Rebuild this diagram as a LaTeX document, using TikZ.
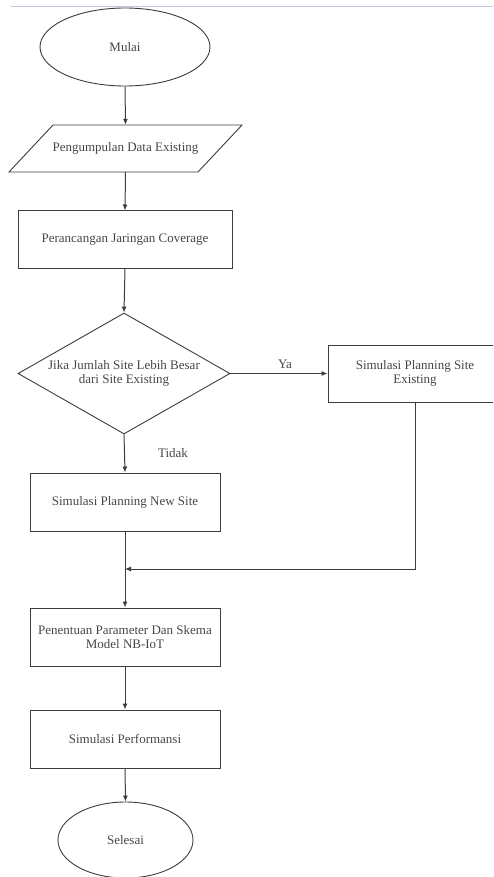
\documentclass[tikz,border=0pt]{standalone}
\usepackage{fontspec}
\setmainfont{Liberation Serif}
\usetikzlibrary{shapes.geometric,arrows.meta}
\definecolor{topline}{RGB}{190,200,222}
\definecolor{edgecol}{RGB}{60,60,60}
\definecolor{txtcol}{RGB}{70,70,70}
\begin{document}
\begin{tikzpicture}[x=1pt,y=-1pt,
  every node/.style={font=\fontsize{13}{14.5}\selectfont, text=txtcol},
  flow/.style={draw=edgecol, line width=1pt, -{Latex[length=6pt,width=5pt]}},
  plainline/.style={draw=edgecol, line width=1pt},
  procbox/.style={draw=edgecol, line width=1pt, rectangle, inner sep=0pt, align=center},
  terminal/.style={draw=edgecol, line width=0.9pt, ellipse, inner sep=0pt, align=center},
  decision/.style={draw=edgecol, line width=0.9pt, diamond, aspect=1.75, inner sep=0pt, align=center, minimum width=212pt, minimum height=121pt},
  lbl/.style={inner sep=0pt}
]
\useasboundingbox (0,0) rectangle (493,877);
\clip (0,0) rectangle (493,877);
\draw[topline, line width=1pt] (11,7) -- (493,7);

\node[terminal, minimum width=170pt, minimum height=78pt] (mulai) at (125,47) {Mulai};

\node[inner sep=0pt, minimum width=190pt, minimum height=47pt, align=center] (data) at (125.5,148.5) {Pengumpulan Data Existing};
\draw[edgecol, line width=0.9pt] (53,125) -- (242,125) -- (198,172) -- (9,172) -- cycle;

\node[procbox, minimum width=214pt, minimum height=57pt] (rancang) at (125,239.5) {Perancangan Jaringan Coverage};

\node[decision] (jika) at (124,373.5) {Jika Jumlah Site Lebih Besar\\dari Site Existing};

\node[procbox, minimum width=174pt, minimum height=57pt] (existing) at (415,373.5) {Simulasi Planning Site\\Existing};

\node[procbox, minimum width=190pt, minimum height=58pt] (newsite) at (125,502) {Simulasi Planning New Site};

\node[procbox, minimum width=190pt, minimum height=58pt] (param) at (125,637) {Penentuan Parameter Dan Skema\\Model NB-IoT};

\node[procbox, minimum width=190pt, minimum height=58pt] (perf) at (125,739) {Simulasi Performansi};

\node[terminal, minimum width=135pt, minimum height=76pt] (selesai) at (125.5,840) {Selesai};

\node[lbl] (ya) at (285,364) {Ya};
\node[lbl] (tidak) at (173,453) {Tidak};

\coordinate (merge) at (125,569);
\coordinate (corner) at (415,569);

\draw[flow] (mulai.south) -- (data.north);
\draw[flow] (data.south) -- (rancang.north);
\draw[flow] (rancang.south) -- (jika.north);
\draw[flow] (jika.east) -- (existing.west);
\draw[flow] (jika.south) -- (newsite.north);
\draw[plainline] (newsite.south) -- (merge);
\draw[flow] (existing.south) -- (corner) -- (merge);
\draw[flow] (merge) -- (param.north);
\draw[flow] (param.south) -- (perf.north);
\draw[flow] (perf.south) -- (selesai.north);
\end{tikzpicture}
\end{document}
